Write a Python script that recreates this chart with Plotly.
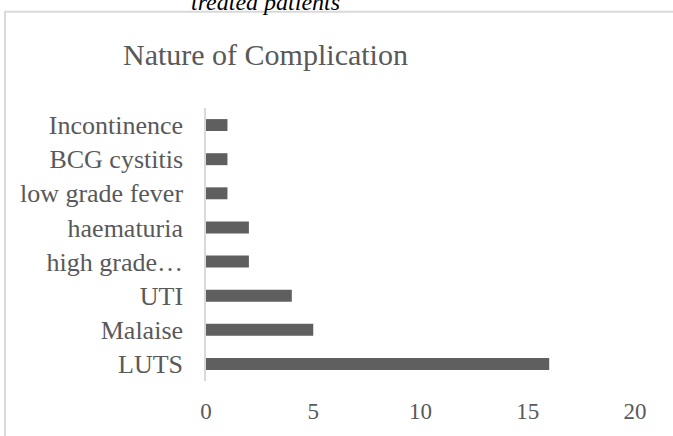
import plotly.graph_objects as go

categories = ["LUTS", "Malaise", "UTI", "high grade…", "haematuria",
              "low grade fever", "BCG cystitis", "Incontinence"]
values = [16, 5, 4, 2, 2, 1, 1, 1]
x_ticks = [0, 5, 10, 15, 20]

W, H = 673, 436
L, R, T, B = 206, 38, 108, 53
pw, ph = W - L - R, H - T - B

def px(xp):
    return (xp - L) / pw

def py(yp):
    return (H - B - yp) / ph

FONT = "Liberation Serif"
GREY = "#595959"

fig = go.Figure(go.Bar(
    x=values, y=categories, orientation="h",
    marker=dict(color="#5f5f5f", line=dict(width=0)),
))

fig.update_layout(
    width=W, height=H,
    margin=dict(l=L, r=R, t=T, b=B, pad=0),
    paper_bgcolor="white", plot_bgcolor="white",
    bargap=0.65,
    showlegend=False,
    font=dict(family=FONT, size=24, color=GREY),
    xaxis=dict(range=[0, 20], tickvals=x_ticks, showgrid=False, zeroline=False,
               showline=False, ticks="", tickfont=dict(size=23, color=GREY),
               ticklabelstandoff=14, fixedrange=True),
    yaxis=dict(categoryorder="array", categoryarray=categories,
               showgrid=False, zeroline=False, showline=True,
               linecolor="#d9d9d9", linewidth=1.5, ticks="",
               tickfont=dict(size=26, color=GREY), ticklabelstandoff=16,
               fixedrange=True),
    shapes=[dict(type="rect", xref="paper", yref="paper",
                 x0=px(5), x1=px(W + 20), y0=py(H + 20), y1=py(11),
                 line=dict(color="#d9d9d9", width=2), fillcolor="rgba(0,0,0,0)",
                 layer="below")],
    annotations=[
        dict(text="Nature of Complication", xref="paper", yref="paper",
             x=px(265), y=py(54), xanchor="center", yanchor="middle",
             showarrow=False, font=dict(family=FONT, size=30, color=GREY)),
        dict(text="<i>treated patients</i>", xref="paper", yref="paper",
             x=px(265), y=py(16), xanchor="center", yanchor="bottom",
             showarrow=False, font=dict(family=FONT, size=24, color="black")),
    ],
)

fig.write_html("out.html",
               config={"displayModeBar": False},
               post_script="document.body.style.margin='0';"
                           "document.body.style.overflow='hidden';")
